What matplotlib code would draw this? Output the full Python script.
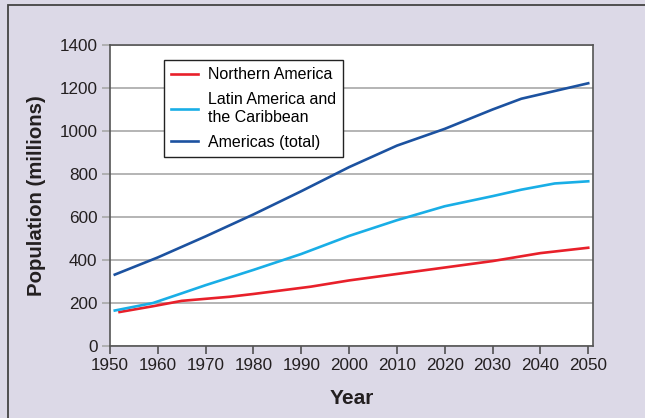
import matplotlib
matplotlib.use('Agg')
import matplotlib.pyplot as plt
from matplotlib.patches import Rectangle

# data (population, millions)
yrs_north = [1952, 1959, 1965, 1975, 1980, 1992, 2000, 2010, 2020, 2030, 2040, 2050]
pop_north = [158, 185, 210, 229, 242, 276, 305, 335, 365, 395, 432, 457]

yrs_latin = [1951, 1959, 1965, 1970, 1980, 1990, 2000, 2010, 2020, 2030, 2036, 2043, 2050]
pop_latin = [165, 200, 245, 283, 354, 428, 512, 585, 650, 697, 727, 756, 766]

yrs_total = [1951, 1960, 1970, 1980, 1990, 2000, 2010, 2020, 2030, 2036, 2050]
pop_total = [332, 412, 510, 612, 720, 832, 932, 1010, 1100, 1150, 1222]

labels = ['Northern America', 'Latin America and\nthe Caribbean', 'Americas (total)']
xticks = list(range(1950, 2051, 10))
yticks = list(range(0, 1401, 200))

bg = '#dcd9e7'
plain = ['Liberation Sans', 'DejaVu Sans']

fig = plt.figure(figsize=(6.45, 4.18), dpi=100)
fig.patch.set_facecolor(bg)
# outer frame (right/bottom edges fall outside the picture)
fig.patches.append(Rectangle((8/645, -0.05), 1.2, 1 - 5/418 + 0.05, transform=fig.transFigure,
                             fill=False, edgecolor='#444444', linewidth=1.3))

ax = fig.add_axes([110/645, 72/418, 483/645, 301/418])
ax.set_facecolor('white')

ax.plot(yrs_north, pop_north, color='#e8202a', linewidth=1.9, label=labels[0], zorder=3)
ax.plot(yrs_latin, pop_latin, color='#19aee6', linewidth=1.9, label=labels[1], zorder=3)
ax.plot(yrs_total, pop_total, color='#1c52a0', linewidth=1.9, label=labels[2], zorder=3)

ax.set_xlim(1950, 2051)
ax.set_ylim(0, 1400)
ax.set_xticks(xticks)
ax.set_yticks(yticks)
ax.grid(axis='y', color='#a8a8a8', linewidth=1.2)
ax.set_axisbelow(True)
for s in ax.spines.values():
    s.set_color('#555555')
    s.set_linewidth(1.2)
ax.tick_params(axis='x', direction='out', length=6, width=1.1, color='#444444', pad=3)
ax.tick_params(axis='y', direction='out', length=6, width=1.2, color='#a8a8a8', pad=3)
for t in ax.get_xticklabels() + ax.get_yticklabels():
    t.set_family(plain)
    t.set_fontsize(12.3)
    t.set_color('#231f20')

ax.set_xlabel('Year', fontsize=15, fontweight='bold', family=plain, color='#231f20', labelpad=11)
ax.set_ylabel('Population (millions)', fontsize=14.7, fontweight='bold', family=plain,
              color='#231f20', labelpad=10)

leg = ax.legend(loc='upper left', bbox_to_anchor=(54/483, 1 - 15/301), borderaxespad=0,
                fancybox=False, edgecolor='#222222', framealpha=1, handlelength=1.7,
                handletextpad=0.6, borderpad=0.45, labelspacing=0.6,
                prop={'family': plain, 'size': 11.5})
leg.get_frame().set_linewidth(1.0)
for t in leg.get_texts():
    t.set_linespacing(1.3)

plt.savefig('out.png', dpi=100, facecolor=bg)
